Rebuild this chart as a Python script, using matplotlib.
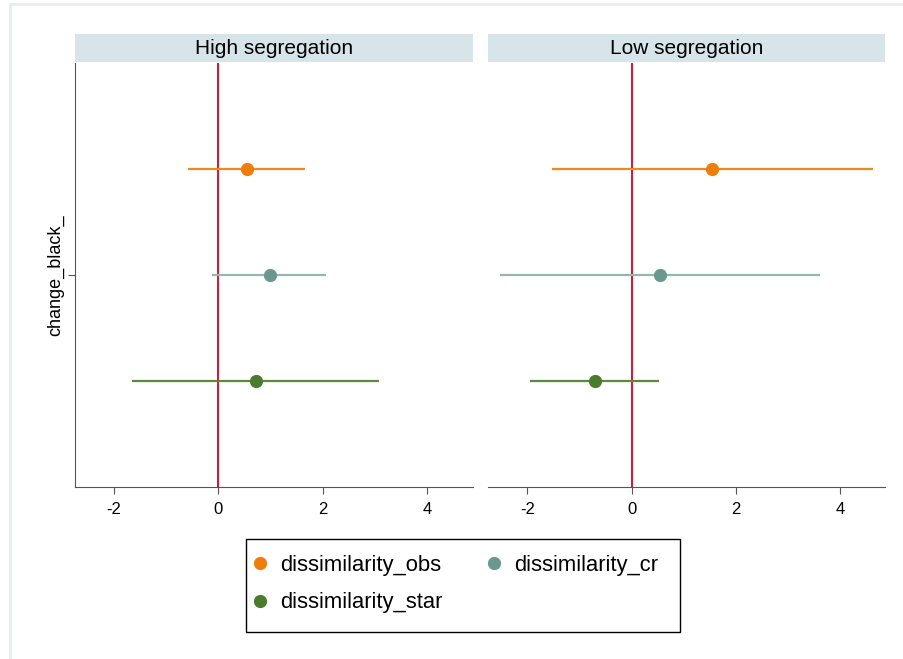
import matplotlib
matplotlib.use('Agg')
import matplotlib.pyplot as plt
from matplotlib.lines import Line2D
from matplotlib.patches import Rectangle

plt.rcParams['font.family'] = ['Liberation Sans', 'DejaVu Sans']

# data
panels = ['High segregation', 'Low segregation']
series = ['dissimilarity_obs', 'dissimilarity_cr', 'dissimilarity_star']
offsets = [-0.25, 0.0, 0.25]
coef_name = 'change_black_'

high_est = [0.54, 0.98, 0.72]
high_lo = [-0.59, -0.12, -1.65]
high_hi = [1.66, 2.07, 3.08]

low_est = [1.55, 0.54, -0.71]
low_lo = [-1.52, -2.52, -1.95]
low_hi = [4.63, 3.62, 0.53]

marker_cols = ['#ef7d0a', '#6a988c', '#4b7b2c']
line_cols = ['#f08a1e', '#97b6ad', '#5a8a3a']

W, H = 904, 659
fig = plt.figure(figsize=(W / 100, H / 100), dpi=100)

def fx(px):
    return px / W

def fy(py):
    return 1 - py / H

# faint frame around the graph region
fig.patches.append(Rectangle((fx(10), -0.1), 1.2, fy(3.5) + 0.1, transform=fig.transFigure,
                             fill=False, edgecolor='#e6efee', linewidth=2))

ax_top, ax_bot = 63, 487
lefts = [75, 488.3]
rights = [472.5, 885.5]
data = [(high_est, high_lo, high_hi), (low_est, low_lo, low_hi)]

for k in range(2):
    ax = fig.add_axes([fx(lefts[k]), fy(ax_bot), fx(rights[k] - lefts[k]), (ax_bot - ax_top) / H])
    est, lo, hi = data[k]
    ax.axvline(0, color='#d01c3c', linewidth=1.5, zorder=1)
    for i in range(3):
        y = 1 + offsets[i]
        ax.hlines(y, lo[i], hi[i], color=line_cols[i], linewidth=1.6, zorder=2)
        ax.plot(est[i], y, 'o', color=marker_cols[i], markersize=8.5, zorder=3)
    ax.set_xlim(-2.75, 4.87)
    ax.set_ylim(1.5, 0.5)
    ax.set_xticks([-2, 0, 2, 4])
    ax.set_xticklabels(['-2', '0', '2', '4'])
    for s in ['top', 'right']:
        ax.spines[s].set_visible(False)
    ax.spines['bottom'].set_color('#555555')
    ax.spines['left'].set_color('#555555')
    ax.tick_params(axis='x', colors='#555555', labelcolor='black', labelsize=12, length=5, pad=6)
    if k == 0:
        ax.set_yticks([1])
        ax.set_yticklabels([coef_name], rotation=90, va='center', fontsize=13)
        ax.tick_params(axis='y', colors='#555555', labelcolor='black', length=5, pad=3)
    else:
        ax.spines['left'].set_visible(False)
        ax.set_yticks([])

    # panel strip
    sax = fig.add_axes([fx(lefts[k]), fy(62), fx(rights[k] - lefts[k]), 28 / H])
    sax.set_facecolor('#d7e5ea')
    sax.set_xticks([])
    sax.set_yticks([])
    for s in sax.spines.values():
        s.set_visible(False)
    sax.text(0.5, 0.5, panels[k], ha='center', va='center', fontsize=15, transform=sax.transAxes)

# legend: rows are obs, cr / star (matplotlib fills column by column)
fig.patches.append(Rectangle((fx(246), fy(632)), fx(680 - 246), (632 - 539) / H,
                             transform=fig.transFigure, fill=False, edgecolor='black', linewidth=1))
order = [0, 2, 1]
handles = [Line2D([], [], linestyle='none', marker='o', color=marker_cols[i], markersize=8.5) for i in order]
labels = [series[i] for i in order]
fig.legend(handles, labels, loc='upper left', bbox_to_anchor=(fx(249.5), fy(555)),
           ncol=2, frameon=False, fontsize=15.8, handlelength=1.0, handletextpad=0.4,
           columnspacing=1.85, borderpad=0, borderaxespad=0, labelspacing=0.75)

fig.savefig('out.png', dpi=100)
